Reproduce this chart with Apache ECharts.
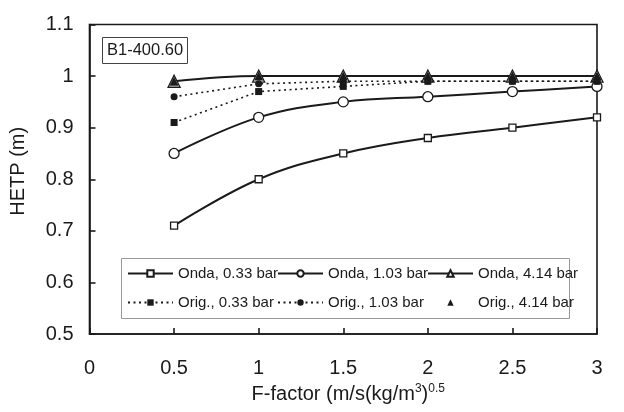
<!DOCTYPE html>
<html>
<head>
<meta charset="utf-8">
<script src="https://cdn.jsdelivr.net/npm/echarts@6/dist/echarts.min.js"></script>
<style>html,body{margin:0;padding:0;background:#fff}#c{width:624px;height:412px}</style>
</head>
<body>
<div id="c"></div>
<script>
const fFactor = [0.5, 1, 1.5, 2, 2.5, 3];
const ondaLow = [0.71, 0.80, 0.85, 0.88, 0.90, 0.92];
const ondaMid = [0.85, 0.92, 0.95, 0.96, 0.97, 0.98];
const ondaHigh = [0.99, 1.00, 1.00, 1.00, 1.00, 1.00];
const origLow = [0.91, 0.97, 0.98, 0.99, 0.99, 0.99];
const origMid = [0.96, 0.985, 0.99, 0.99, 0.99, 0.99];
const origHigh = [0.99, 1.00, 1.00, 1.00, 1.00, 1.00];
const names = ['Onda, 0.33 bar', 'Onda, 1.03 bar', 'Onda, 4.14 bar', 'Orig., 0.33 bar', 'Orig., 1.03 bar', 'Orig., 4.14 bar'];

const pairs = ys => fFactor.map((x, i) => [x, ys[i]]);
const ink = '#1a1a1a';
const font = 'Liberation Sans, Arial, sans-serif';

function onda(name, ys, symbol, size) {
  return {
    name, type: 'line', data: pairs(ys), smooth: 0.4,
    symbol, symbolSize: size, showSymbol: true,
    lineStyle: { color: ink, width: 2 },
    itemStyle: { color: '#fff', borderColor: ink, borderWidth: 1.3 },
    z: 3
  };
}
function orig(name, ys, symbol, size, noLine) {
  return {
    name, type: 'line', data: pairs(ys), smooth: false,
    symbol, symbolSize: size, showSymbol: true,
    lineStyle: noLine ? { width: 0, opacity: 0 } : { color: ink, width: 1.6, type: [2, 3.5] },
    itemStyle: { color: ink, borderColor: ink, borderWidth: 0 },
    z: noLine ? 5 : 4
  };
}

const legendBase = {
  orient: 'vertical', top: 266, itemWidth: 45, itemHeight: 8, itemGap: 14,
  textStyle: { fontFamily: font, fontSize: 15, color: ink },
  selectedMode: false, padding: 0
};

const option = {
  animation: false,
  backgroundColor: '#fff',
  title: {
    text: 'B1-400.60', left: 102, top: 37, padding: [5, 5],
    borderWidth: 1, borderColor: '#444',
    textStyle: { fontFamily: font, fontSize: 16.5, fontWeight: 'normal', color: ink }
  },
  graphic: [{
    type: 'rect', left: 121, top: 258, z: 1,
    shape: { width: 448, height: 60 },
    style: { fill: '#fff', stroke: '#999', lineWidth: 1 }
  }],
  legend: [
    Object.assign({}, legendBase, { left: 127, data: [names[0], names[3]] }),
    Object.assign({}, legendBase, { left: 277, data: [names[1], names[4]] }),
    Object.assign({}, legendBase, { left: 427, data: [names[2], names[5]] })
  ],
  grid: {
    left: 89.5, right: 27, top: 24.5, bottom: 78,
    outerBoundsMode: 'none', containLabel: false,
    show: true, borderColor: ink, borderWidth: 1.6, backgroundColor: 'transparent'
  },
  xAxis: {
    type: 'value', min: 0, max: 3, interval: 0.5,
    name: '{m|F-factor (m/s(kg/m}{s|3}{m|)}{s|0.5}',
    nameLocation: 'middle', nameGap: 49,
    nameTextStyle: {
      padding: [0, 0, 0, 10],
      rich: {
        m: { fontFamily: font, fontSize: 20, color: ink },
        s: { fontFamily: font, fontSize: 12, color: ink, verticalAlign: 'top', padding: [0, 0, 10, 0] }
      }
    },
    axisLine: { lineStyle: { color: ink, width: 1.6 } },
    axisTick: { inside: true, length: 6, lineStyle: { color: ink, width: 1.6 } },
    axisLabel: { fontFamily: font, fontSize: 20, color: ink, margin: 24 },
    splitLine: { show: false }
  },
  yAxis: {
    type: 'value', min: 0.5, max: 1.1, interval: 0.1,
    name: 'HETP (m)', nameLocation: 'middle', nameGap: 61, nameRotate: 90,
    nameTextStyle: { fontFamily: font, fontSize: 20, color: ink, padding: [0, 0, 0, 16] },
    axisLine: { lineStyle: { color: ink, width: 1.6 } },
    axisTick: { inside: true, length: 6, lineStyle: { color: ink, width: 1.6 } },
    axisLabel: { fontFamily: font, fontSize: 20, color: ink, margin: 16 },
    splitLine: { show: false }
  },
  series: [
    onda(names[0], ondaLow, 'rect', 7),
    onda(names[1], ondaMid, 'circle', 10),
    onda(names[2], ondaHigh, 'triangle', 12),
    orig(names[3], origLow, 'rect', 7),
    orig(names[4], origMid, 'circle', 7),
    orig(names[5], origHigh, 'triangle', 9, true)
  ]
};

echarts.init(document.getElementById('c'), null, { renderer: 'canvas' }).setOption(option);
</script>
</body>
</html>
